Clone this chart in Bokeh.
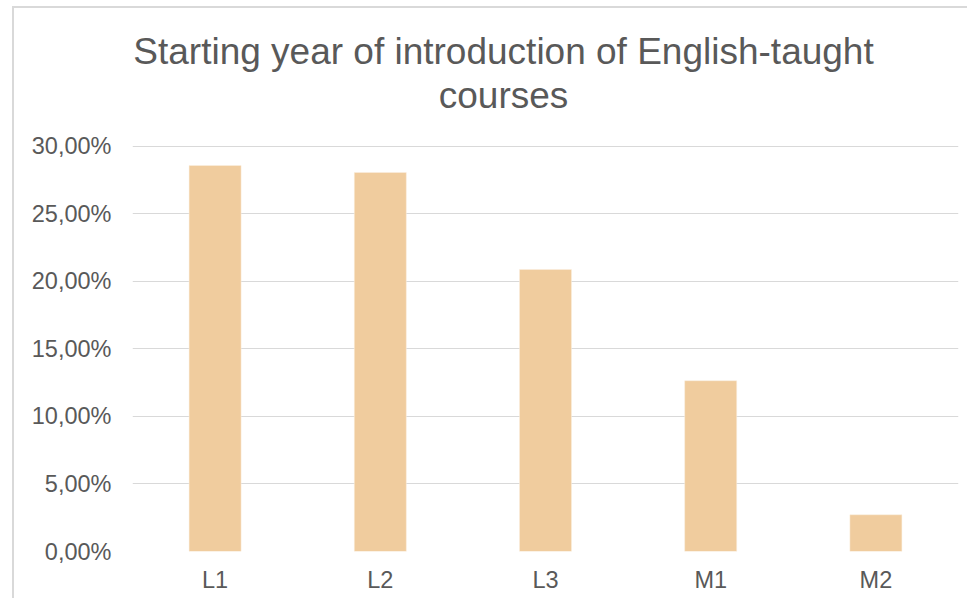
from bokeh.plotting import figure
from bokeh.models import FixedTicker, Label
from bokeh.embed import file_html
from bokeh.resources import INLINE

# Data
categories = ["L1", "L2", "L3", "M1", "M2"]
shares = [28.57, 28.05, 20.87, 12.64, 2.72]
y_ticks = [0, 5, 10, 15, 20, 25, 30]
y_tick_labels = ["0,00%", "5,00%", "10,00%", "15,00%", "20,00%", "25,00%", "30,00%"]
title_lines = ["Starting year of introduction of English-taught", "courses"]

FONT = "Liberation Sans"
TXT = "#595959"
GRID = "#d9d9d9"

W, H = 955, 592
MB = 49
frame_h = H - MB
data_px = 405.3  # pixels occupied by 0..30
y_top = 30 * frame_h / data_px

p = figure(x_range=categories, y_range=(0, y_top), width=W, height=H,
           output_backend="svg", toolbar_location=None, tools="",
           min_border_left=118, min_border_right=11, min_border_top=0,
           min_border_bottom=MB)
p.styles = {"margin-left": "14px", "margin-top": "8px",
            "box-shadow": "-2px -2px 0 0 #d9d9d9"}
p.outline_line_color = None
p.background_fill_color = "white"
p.border_fill_color = "white"

p.vbar(x=categories, top=shares, width=0.315, fill_color="#f0cc9e",
       line_color="#fbf0e2", line_width=0.5)

p.xgrid.grid_line_color = None
p.ygrid.grid_line_color = GRID
p.ygrid.grid_line_width = 1.2
p.ygrid.ticker = FixedTicker(ticks=y_ticks)

p.yaxis.ticker = FixedTicker(ticks=y_ticks)
p.yaxis.major_label_overrides = {t: l for t, l in zip(y_ticks, y_tick_labels)}
for ax in (p.xaxis, p.yaxis):
    ax.axis_line_color = None
    ax.major_tick_line_color = None
    ax.minor_tick_line_color = None
    ax.major_label_text_font = FONT
    ax.major_label_text_font_size = "23.5px"
    ax.major_label_text_color = TXT
p.yaxis.major_label_standoff = 15
p.xaxis.major_label_standoff = 9

for i, line in enumerate(title_lines):
    p.add_layout(Label(x=371, y=500 - 44 * i, x_units="screen", y_units="screen",
                       text=line, text_align="center", text_baseline="alphabetic",
                       text_font=FONT, text_font_size="37px", text_color=TXT))

open("out.html", "w").write(file_html(p, INLINE))
